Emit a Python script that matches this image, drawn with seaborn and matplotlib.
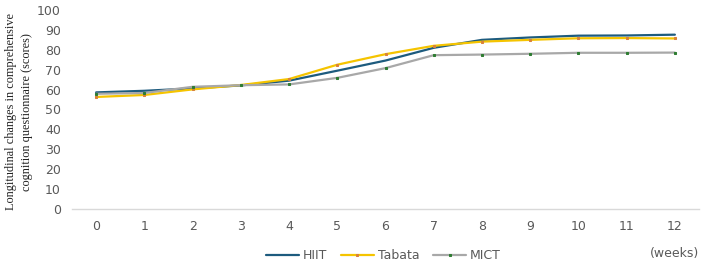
import matplotlib
matplotlib.use("Agg")
from matplotlib import pyplot as plt
import seaborn as sns
import pandas as pd

weeks = list(range(13))
hiit = [58.6, 59.4, 60.6, 62.1, 64.5, 69.5, 74.6, 81.0, 85.0, 86.2, 87.1, 87.2, 87.6]
tabata = [56.3, 57.3, 60.1, 62.3, 65.3, 72.5, 77.8, 82.0, 84.1, 85.0, 85.8, 85.9, 85.7]
mict = [57.9, 58.3, 61.4, 62.2, 62.6, 65.9, 70.8, 77.3, 77.6, 78.0, 78.5, 78.5, 78.6]

groups = ["HIIT", "Tabata", "MICT"]
line_colors = ["#1d5b7e", "#f5c400", "#a8a8a8"]
marker_colors = ["#1d5b7e", "#d9823a", "#2e7d32"]
marker_sizes = [0, 1.6, 1.6]

df = pd.DataFrame({
    "week": weeks * 3,
    "score": hiit + tabata + mict,
    "group": ["HIIT"] * 13 + ["Tabata"] * 13 + ["MICT"] * 13,
})

sns.set_style("white")
fig = plt.figure(figsize=(7.08, 2.67), dpi=100)
ax = fig.add_axes([72 / 708, 58 / 267, 627 / 708, 199 / 267])

sns.lineplot(data=df, x="week", y="score", hue="group", hue_order=groups,
             palette=line_colors, marker="s", linewidth=1.6, ax=ax)

# tiny markers with their own colours, like the original
for line, mc, ms in zip(ax.lines[:3], marker_colors, marker_sizes):
    line.set_markerfacecolor(mc)
    line.set_markeredgecolor(mc)
    line.set_markersize(ms)

ax.set_xlim(-0.5, 12.5)
ax.set_ylim(0, 100)
ax.set_xticks(weeks)
ax.set_yticks(range(0, 101, 10))
ax.tick_params(axis="both", length=0, labelsize=9, colors="#595959", pad=8)
for side in ["top", "right", "left"]:
    ax.spines[side].set_visible(False)
ax.spines["bottom"].set_color("#d9d9d9")
ax.spines["bottom"].set_linewidth(1)
ax.set_xlabel("")
ax.set_ylabel("")
fig.text(19 / 708, 1 - 112 / 267,
         "Longitudinal changes in comprehensive\ncognition questionnaire (scores)",
         rotation=90, ha="center", va="center", family="Liberation Serif",
         fontsize=8.8, color="#222222", linespacing=1.45)

ax.text(12, -22.5, "(weeks)", ha="center", va="center", fontsize=9, color="#595959")

handles, labels = ax.get_legend_handles_labels()
for h, mc, ms in zip(handles, marker_colors, marker_sizes):
    h.set_markerfacecolor(mc)
    h.set_markeredgecolor(mc)
    h.set_markersize(ms)
ax.legend(handles, labels, loc="center", bbox_to_anchor=(0.497, -0.235),
          ncol=3, frameon=False, fontsize=9, labelcolor="#595959",
          handlelength=2.6, columnspacing=1.1, handletextpad=0.35)

plt.savefig("out.png", dpi=100)
plt.close()
